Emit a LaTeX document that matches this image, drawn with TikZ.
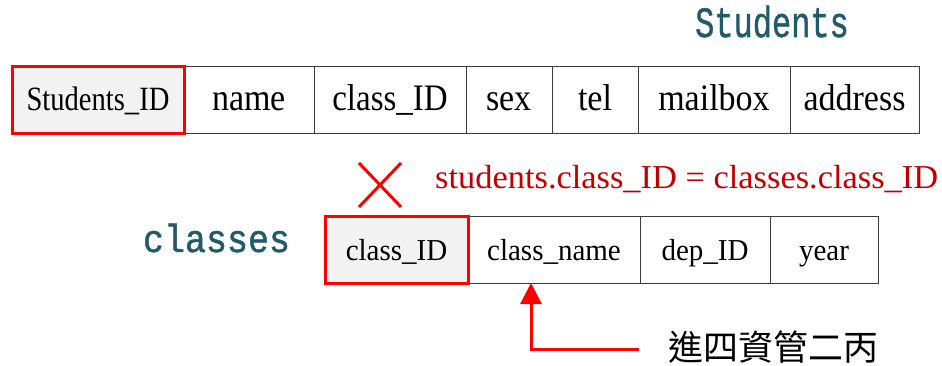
\documentclass[tikz,border=0pt]{standalone}
\usepackage{fontspec}
\setmainfont{Liberation Serif}
\newfontfamily\titlefont[FakeBold=1.2]{Liberation Mono}
\newfontfamily\cjk{Noto Sans CJK TC}
\usetikzlibrary{arrows.meta}
\definecolor{teal1}{RGB}{35,90,105}
\definecolor{darkred1}{RGB}{192,0,0}
\definecolor{red1}{RGB}{255,0,0}
\definecolor{cellgray}{RGB}{242,242,242}
\definecolor{linegray}{RGB}{60,60,60}
\begin{document}
\begin{tikzpicture}[x=1pt,y=-1pt,
  cell/.style={draw=linegray,line width=1pt,inner sep=0pt,outer sep=0pt,
    minimum height=#1,text height=26pt,text depth=6pt,anchor=center},
  keycell/.style={cell=#1,fill=cellgray,draw=red1,line width=3pt},
  toptext/.style={font=\fontsize{34}{40}\selectfont},
  bottext/.style={font=\fontsize{29}{34}\selectfont},
  redline/.style={draw=red1,line width=3pt}
]
\useasboundingbox (0,0) rectangle (942,366);
% Students table (y 67..134)
\node[cell=67pt,minimum width=130pt,toptext] (sname) at (249,100.5) {\scalebox{1}[1.12]{name}};
\node[cell=67pt,minimum width=152pt,toptext] (sclass) at (390,100.5) {\scalebox{0.97}[1.1]{class\_ID}};
\node[cell=67pt,minimum width=86pt,toptext] (ssex) at (509,100.5) {\scalebox{1}[1.12]{sex}};
\node[cell=67pt,minimum width=86pt,toptext] (stel) at (595,100.5) {\scalebox{1}[1.1]{tel}};
\node[cell=67pt,minimum width=152pt,toptext] (smail) at (714,100.5) {\scalebox{1}[1.1]{mailbox}};
\node[cell=67pt,minimum width=129pt,toptext] (saddr) at (854.5,100.5) {\scalebox{1}[1.1]{address}};
\node[keycell=67pt,minimum width=172pt,toptext] (sid) at (98,100.5) {\scalebox{0.84}[1]{Students\_ID}};
\node[anchor=base,teal1,font=\titlefont\fontsize{32}{36}\selectfont] (stitle) at (772,37) {\scalebox{1}[1.35]{Students}};
% classes table (y 217..283)
\node[cell=66pt,minimum width=172pt,bottext] (cname) at (554,250) {\scalebox{1}[1.05]{class\_name}};
\node[cell=66pt,minimum width=130pt,bottext] (cdep) at (705,250) {\scalebox{1}[1.05]{dep\_ID}};
\node[cell=66pt,minimum width=108pt,bottext] (cyear) at (824,250) {\scalebox{1}[1.05]{year}};
\node[keycell=66pt,minimum width=143pt,bottext] (cid) at (396.5,250) {\scalebox{1}[1.05]{class\_ID}};
\node[anchor=base,teal1,font=\titlefont\fontsize{35}{40}\selectfont] (ctitle) at (216.5,252) {\scalebox{1}[1.12]{classes}};
% join condition
\node[anchor=base west,inner sep=0pt,darkred1,font=\fontsize{31}{36}\selectfont] (cond) at (435,189) {\scalebox{1.11}[1.08]{students.class\_ID = classes.class\_ID}};
% red cross
\coordinate (x1) at (359,163);
\coordinate (x2) at (401,207);
\coordinate (x3) at (401,163);
\coordinate (x4) at (359,207);
\draw[redline] (x1) -- (x2);
\draw[redline] (x3) -- (x4);
% annotation
\node[font=\cjk\fontsize{35}{40}\selectfont,inner sep=0pt] (note) at (773.5,347) {進四資管二丙};
\coordinate (astart) at (639,349);
\draw[redline,-{Triangle[width=21pt,length=21pt]}] (astart) -| ([xshift=-23pt]cname.south);
\end{tikzpicture}
\end{document}
